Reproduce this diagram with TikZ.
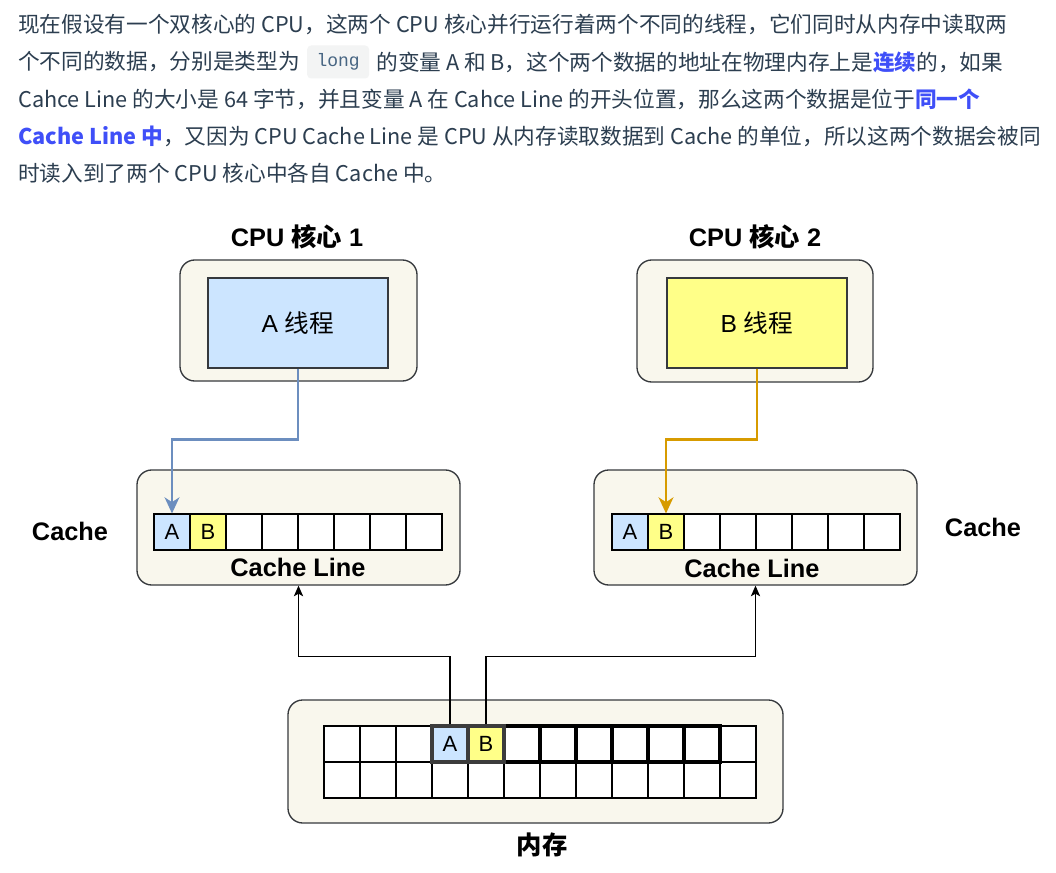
\documentclass[tikz,border=0pt]{standalone}
\usepackage{fontspec}
\setmainfont{Liberation Sans}
\newfontfamily\cjk{Noto Sans CJK SC}
\newfontfamily\codefont{Liberation Mono}
\usepackage{tikz}
\usetikzlibrary{shapes,arrows.meta,positioning,fit,calc}

\definecolor{boxfill}{HTML}{F9F7ED}
\definecolor{boxline}{HTML}{36393D}
\definecolor{threadA}{HTML}{CCE5FF}
\definecolor{threadB}{HTML}{FFFF88}
\definecolor{lineA}{HTML}{6C8EBF}
\definecolor{lineB}{HTML}{D79B00}
\definecolor{txt}{HTML}{2C3E50}
\definecolor{link}{HTML}{3F4FF8}
\definecolor{codebg}{HTML}{F3F4F4}
\definecolor{codetxt}{HTML}{476582}
\definecolor{darkcell}{HTML}{3C3C3C}

\begin{document}
\begin{tikzpicture}[x=0.75pt, y=-0.75pt,
    para/.style={anchor=west, inner sep=0pt, text=txt, font=\cjk\fontsize{16.25pt}{20pt}\selectfont},
    code/.style={rectangle, fill=codebg, rounded corners=3pt, minimum width=46.5pt, minimum height=24.75pt, inner sep=0pt, text=codetxt, font=\codefont\fontsize{13.5pt}{15pt}\selectfont},
    panel/.style={rectangle, rounded corners=11pt, draw=boxline, fill=boxfill, line width=1pt},
    thread/.style={rectangle, draw=boxline, line width=0.8pt, minimum width=135pt, minimum height=67.5pt, font=\fontsize{18.5pt}{20pt}\selectfont},
    cell/.style={rectangle, draw=black, fill=white, line width=0.8pt, minimum size=27pt, inner sep=0pt, font=\fontsize{16.5pt}{18pt}\selectfont},
    title/.style={font=\bfseries\fontsize{19pt}{20pt}\selectfont},
    arrow/.style={-{Stealth[length=8pt,width=7pt,inset=2pt]}, line width=0.8pt},
    feed/.style={-{Stealth[length=12pt,width=11pt,inset=3.5pt]}, line width=2pt}]

    \fill[white] (0,0) rectangle (1056,873);
    \useasboundingbox (0,0) rectangle (1056,873);

    % text above the figure
    \node[para] (l1) at (18,24) {现在假设有一个双核心的 CPU，这两个 CPU 核心并行运行着两个不同的线程，它们同时从内存中读取两};
    \node[para] (l2) at (18,62) {个不同的数据，分别是类型为};
    \node[code, right=5pt of l2] (code) {long};
    \node[para, right=5pt of code] (l2b) {的变量 A 和 B，这个两个数据的地址在物理内存上是{\bfseries\color{link}连续}的，如果};
    \node[para] (l3) at (18,99) {Cahce Line 的大小是 64 字节，并且变量 A 在 Cahce Line 的开头位置，那么这两个数据是位于{\bfseries\color{link}同一个}};
    \node[para] (l4) at (18,136) {{\bfseries\color{link}Cache Line 中}，又因为 CPU Cache Line 是 CPU 从内存读取数据到 Cache 的单位，所以这两个数据会被同};
    \node[para] (l5) at (18,173) {时读入到了两个 CPU 核心中各自 Cache 中。};

    % cores
    \node[title] (title1) at (297,237) {CPU {\cjk 核心} 1};
    \node[title] (title2) at (755,237) {CPU {\cjk 核心} 2};
    \node[panel, minimum width=177.75pt, minimum height=90.75pt] (core1) at (298.5,320.5) {};
    \node[panel, minimum width=177pt, minimum height=91.5pt] (core2) at (755,321) {};
    \node[thread, fill=threadA] (tA) at (298,323) {A {\cjk 线程}};
    \node[thread, fill=threadB] (tB) at (757,323) {B {\cjk 线程}};

    % caches
    \node[panel, minimum width=242.25pt, minimum height=86.25pt] (cache1) at (298.5,527.5) {};
    \node[panel, minimum width=242.25pt, minimum height=86.25pt] (cache2) at (755.5,527.5) {};
    \foreach \i in {3,...,8} {
        \node[cell] (cl1-\i) at ({136+36*\i},532) {};
        \node[cell] (cl2-\i) at ({594+36*\i},532) {};
    }
    \node[cell, fill=threadA] (cl1-1) at (172,532) {A};
    \node[cell, fill=threadB] (cl1-2) at (208,532) {B};
    \node[cell, fill=threadA] (cl2-1) at (630,532) {A};
    \node[cell, fill=threadB] (cl2-2) at (666,532) {B};
    \node[title] (line1) at (298,567) {Cache Line};
    \node[title] (line2) at (752,568) {Cache Line};
    \node[title] (lbl1) at (70,531) {Cache};
    \node[title] (lbl2) at (983,527) {Cache};

    % memory
    \node[panel, minimum width=371.25pt, minimum height=92.25pt] (mem) at (535.5,761.5) {};
    \foreach \i in {1,...,12} {
        \node[cell] (m2-\i) at ({306+36*\i},780) {};
    }
    \foreach \i in {1,2,3,12} {
        \node[cell] (m1-\i) at ({306+36*\i},744) {};
    }
    \foreach \i in {6,...,11} {
        \node[cell, line width=3pt] (m1-\i) at ({306+36*\i},744) {};
    }
    \node[cell, fill=threadA, draw=darkcell, line width=3pt] (m1-4) at (450,744) {A};
    \node[cell, fill=threadB, draw=darkcell, line width=3pt] (m1-5) at (486,744) {B};
    \node[title] (memlbl) at (542,845) {\cjk 内存};

    % connections
    \draw[feed, lineA] (tA.south) |- ([yshift=55.5pt]cl1-1.north) -- (cl1-1.north);
    \draw[feed, lineB] (tB.south) |- ([yshift=55.5pt]cl2-2.north) -- (cl2-2.north);
    \draw[arrow] (m1-4.north) |- ([yshift=-53.25pt]cache1.south) -- (cache1.south);
    \draw[arrow] (m1-5.north) |- ([yshift=-53.25pt]cache2.south) -- (cache2.south);
\end{tikzpicture}
\end{document}
